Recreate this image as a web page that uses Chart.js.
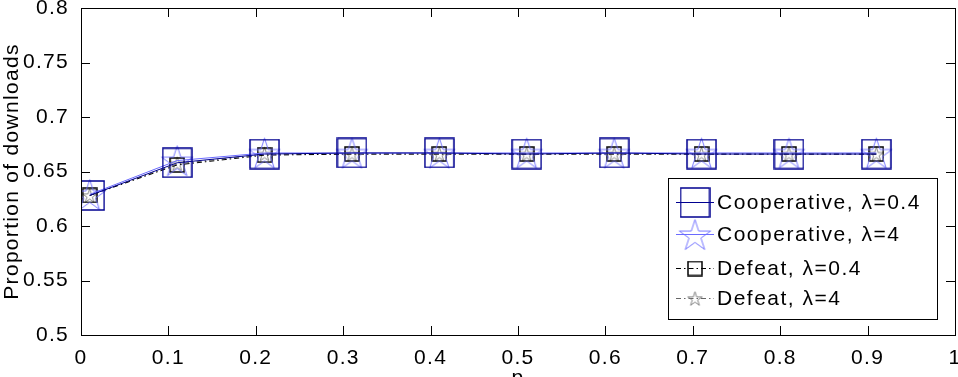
<!DOCTYPE html>
<html>
<head>
<meta charset="utf-8">
<script src="https://cdn.jsdelivr.net/npm/chart.js@4"></script>
<style>
  html, body { margin: 0; padding: 0; background: #fff; }
  #wrap { width: 958px; height: 377px; }
</style>
</head>
<body>
<div id="wrap"><canvas id="myChart" width="958" height="377"></canvas></div>
<script>
// values
const pValues = [0.01, 0.11, 0.21, 0.31, 0.41, 0.51, 0.61, 0.71, 0.81, 0.91];
const coop04 = [0.628, 0.658, 0.666, 0.667, 0.667, 0.666, 0.667, 0.666, 0.666, 0.666];
const coop4  = [0.629, 0.660, 0.667, 0.667, 0.667, 0.667, 0.667, 0.667, 0.667, 0.667];
const def04  = [0.628, 0.656, 0.665, 0.666, 0.666, 0.666, 0.666, 0.666, 0.666, 0.666];
const def4   = [0.628, 0.657, 0.666, 0.666, 0.666, 0.666, 0.666, 0.666, 0.666, 0.666];
const seriesLabels = ['Cooperative, \u03bb=0.4', 'Cooperative, \u03bb=4', 'Defeat, \u03bb=0.4', 'Defeat, \u03bb=4'];
const xTitle = 'p';
const yTitle = 'Proportion of downloads';

const FONT = 'Liberation Sans, Arial, Helvetica, sans-serif';
const SPACING = '1.3px';

function squareMarker(size, color, lw) {
    const c = document.createElement('canvas');
    c.width = size + 2; c.height = size + 2;
    const ctx = c.getContext('2d');
    ctx.strokeStyle = color;
    ctx.lineWidth = lw;
    ctx.strokeRect(1, 1, size, size);
    return c;
}

function starMarker(size, color, lw) {
    const c = document.createElement('canvas');
    c.width = size + 2; c.height = size + 2;
    const ctx = c.getContext('2d');
    const cx = c.width / 2, cy = c.height / 2 + size * 0.05;
    const R = size / 2, r = R * 0.38;
    ctx.beginPath();
    for (let i = 0; i < 10; i++) {
        const a = -Math.PI / 2 + i * Math.PI / 5;
        const rr = i % 2 === 0 ? R : r;
        const px = cx + rr * Math.cos(a), py = cy + rr * Math.sin(a);
        if (i === 0) ctx.moveTo(px, py); else ctx.lineTo(px, py);
    }
    ctx.closePath();
    ctx.strokeStyle = color;
    ctx.lineWidth = lw;
    ctx.stroke();
    return c;
}

const markers = [
    squareMarker(29, '#000090', 1.5),
    starMarker(33, '#6a6aff', 0.9),
    squareMarker(14, '#000000', 1.5),
    starMarker(15, '#777777', 0.9)
];
const lineColors = ['#000090', '#6a6aff', '#000000', '#666666'];
const lineDashes = [[], [], [5, 3, 1.5, 3], [5, 3, 1.5, 3]];

function toPoints(arr) {
    return arr.map((v, i) => ({ x: pValues[i], y: v }));
}

function tickText(v) {
    return String(+v.toFixed(2));
}

const allSeries = [coop04, coop4, def04, def4];
const datasets = allSeries.map((s, i) => ({
    label: seriesLabels[i],
    data: toPoints(s),
    borderColor: lineColors[i],
    borderWidth: 1,
    borderDash: lineDashes[i],
    pointStyle: markers[i],
    pointRadius: 10,
    pointHoverRadius: 10,
    fill: false,
    tension: 0
}));

const noPadding = () => ({ left: 0, top: 0, right: 0, bottom: 0 });

const spacingPlugin = {
    id: 'spacing',
    beforeUpdate(chart) { chart.ctx.letterSpacing = SPACING; },
    beforeDraw(chart) { chart.ctx.letterSpacing = SPACING; }
};

const framePlugin = {
    id: 'frame',
    afterDatasetsDraw(chart) {
        const ctx = chart.ctx;
        const a = chart.chartArea;
        const xs = chart.scales.x, ys = chart.scales.y;
        const tl = 9;
        ctx.save();
        ctx.strokeStyle = '#000';
        ctx.lineWidth = 1;
        ctx.setLineDash([]);
        ctx.beginPath();
        xs.ticks.forEach(t => {
            const px = Math.round(xs.getPixelForValue(t.value)) + 0.5;
            ctx.moveTo(px, a.bottom); ctx.lineTo(px, a.bottom - tl);
            ctx.moveTo(px, a.top); ctx.lineTo(px, a.top + tl);
        });
        ys.ticks.forEach(t => {
            const py = Math.round(ys.getPixelForValue(t.value)) + 0.5;
            ctx.moveTo(a.left, py); ctx.lineTo(a.left + tl, py);
            ctx.moveTo(a.right, py); ctx.lineTo(a.right - tl, py);
        });
        ctx.stroke();
        ctx.strokeRect(Math.round(a.left) + 0.5, Math.round(a.top) + 0.5,
            Math.round(a.right - a.left), Math.round(a.bottom - a.top));

        // legend box inside the axes, bottom right
        const bx = 668.5, by = 178.5, bw = 269, bh = 141;
        ctx.fillStyle = '#fff';
        ctx.fillRect(bx, by, bw, bh);
        ctx.strokeRect(bx, by, bw, bh);
        const rows = [202, 234, 268, 298];
        ctx.font = '21px ' + FONT;
        ctx.letterSpacing = '1.5px';
        ctx.textBaseline = 'middle';
        chart.data.datasets.forEach((ds, i) => {
            const y = rows[i] + 0.5;
            ctx.strokeStyle = lineColors[i];
            ctx.setLineDash(lineDashes[i]);
            ctx.beginPath();
            ctx.moveTo(676, y); ctx.lineTo(714, y);
            ctx.stroke();
            ctx.setLineDash([]);
            const m = markers[i];
            ctx.drawImage(m, 695 - m.width / 2, rows[i] - m.height / 2 + 0.5);
            ctx.fillStyle = '#000';
            ctx.fillText(ds.label, 717, rows[i] + 1);
        });
        ctx.restore();
    }
};

const canvas = document.getElementById('myChart');
canvas.getContext('2d').letterSpacing = SPACING;

new Chart(canvas, {
    type: 'line',
    data: { datasets: datasets },
    options: {
        responsive: false,
        animation: false,
        layout: { autoPadding: false, padding: { top: 8, right: 3, left: 0, bottom: 0 } },
        plugins: { legend: { display: false }, tooltip: { enabled: false } },
        scales: {
            x: {
                type: 'linear',
                min: 0, max: 1,
                grid: { display: false },
                border: { display: false },
                ticks: {
                    stepSize: 0.1,
                    color: '#000',
                    padding: 3,
                    maxRotation: 0,
                    font: { family: FONT, size: 21 },
                    callback: tickText
                },
                title: {
                    display: true, text: xTitle, color: '#000',
                    font: { family: FONT, size: 21 },
                    padding: { top: 0, bottom: -14 }
                },
                afterFit(scale) {
                    scale.height = 42;
                    scale.paddingLeft = 0;
                    scale.paddingRight = 0;
                    scale.getPadding = noPadding;
                }
            },
            y: {
                min: 0.5, max: 0.8,
                grid: { display: false },
                border: { display: false },
                ticks: {
                    stepSize: 0.05,
                    color: '#000',
                    padding: 4,
                    font: { family: FONT, size: 21 },
                    callback: tickText
                },
                title: {
                    display: true, text: yTitle, color: '#000',
                    font: { family: FONT, size: 21 },
                    padding: 0
                },
                afterFit(scale) {
                    scale.width = 81;
                    scale.paddingTop = 0;
                    scale.paddingBottom = 0;
                    scale.getPadding = noPadding;
                }
            }
        }
    },
    plugins: [spacingPlugin, framePlugin]
});
</script>
</body>
</html>
